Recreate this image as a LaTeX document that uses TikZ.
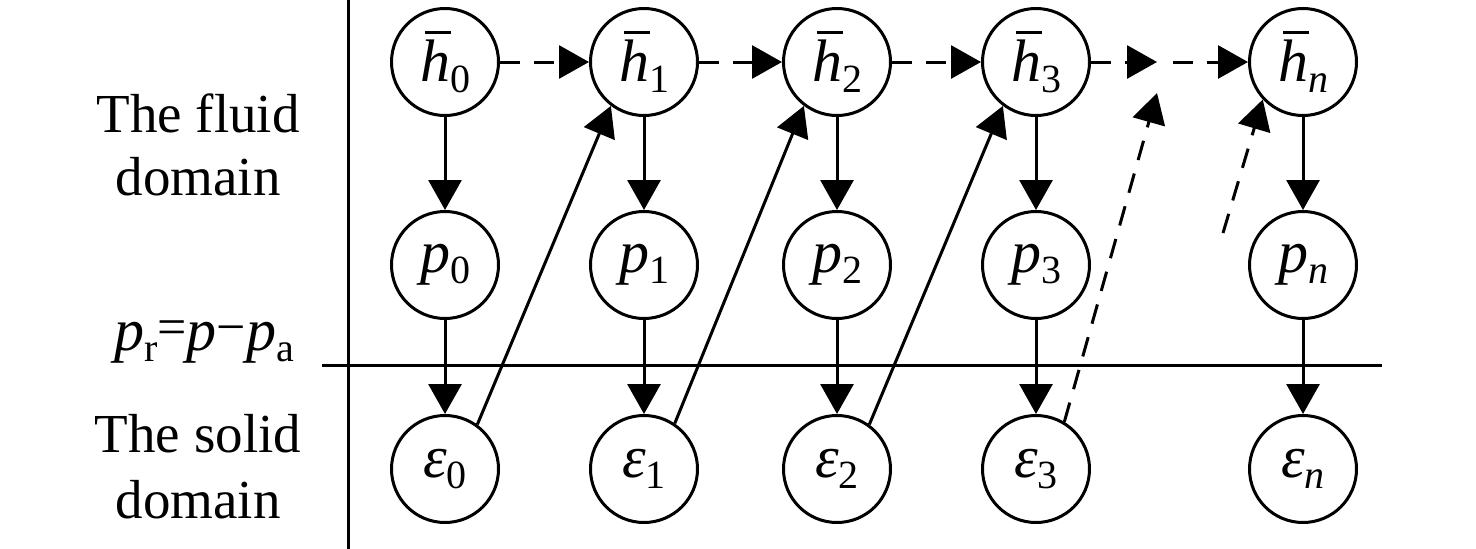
\documentclass[tikz,border=0pt]{standalone}
\usepackage{fontspec}
\setmainfont{Liberation Serif}
\usetikzlibrary{arrows.meta}
\newcommand{\sbx}[1]{\raisebox{-11pt}{\fontsize{40}{40}\selectfont #1}}
\newcommand{\barh}{\rlap{\kern5pt\rule[48pt]{26pt}{2.5pt}}\textit{h}}
\newcommand{\smop}[1]{\raisebox{6pt}{\fontsize{52}{52}\selectfont #1}}
\tikzset{
  st/.style={circle, draw, line width=3pt, minimum size=107pt, inner sep=0pt,
    font=\fontsize{60}{60}\selectfont},
  arr/.style={line width=3pt, -{Triangle[length=30pt,width=33pt]}},
  darr/.style={arr, dash pattern=on 20pt off 14pt},
  lbl/.style={font=\fontsize{55}{63}\selectfont, anchor=base},
  divider/.style={line width=3pt}
}
\begin{document}
\begin{tikzpicture}[x=1pt,y=-1pt]
\useasboundingbox (0,0) rectangle (1476,549);
\foreach \x/\i/\s in {445/0/0, 644/1/1, 837/2/2, 1036/3/3, 1303/n/{\textit{n}}} {
  \node[st] (h\i) at (\x,62) {\barh\sbx{\s}};
  \node[st] (p\i) at (\x,265) {\textit{p}\sbx{\s}};
  \node[st] (e\i) at (\x,469) {\textit{ε}\sbx{\s}};
  \draw[arr] (h\i) -- (p\i);
  \draw[arr] (p\i) -- (e\i);
}
% dividers
\coordinate (vt) at (348,0);
\coordinate (vb) at (348,549);
\coordinate (hl) at (322,365);
\coordinate (hr) at (1382,365);
\draw[divider] (vt) -- (vb);
\draw[divider] (hl) -- (hr);
% horizontal dashed arrows
\draw[darr] (h0) -- (h1);
\draw[darr] (h1) -- (h2);
\draw[darr] (h2) -- (h3);
\coordinate (m1) at (1157,62);
\coordinate (m2) at (1173,62);
\draw[darr] (h3) -- (m1);
\draw[darr] (m2) -- (hn);
% diagonal arrows
\draw[arr] (e0.54) -- (h1.233);
\draw[arr] (e1.56) -- (h2.233);
\draw[arr] (e2.54) -- (h3.233);
\coordinate (m3) at (1157,93);
\draw[darr] (e3.59) -- (m3);
\coordinate (m4) at (1223,233);
\draw[darr] (m4) -- (hn.223);
% labels
\node[lbl] (f1) at (198,132) {The fluid};
\node[lbl] (f2) at (198,195) {domain};
\node[lbl] (s1) at (198,452) {The solid};
\node[lbl] (s2) at (198,518) {domain};
\node[anchor=base west, inner sep=0pt, font=\fontsize{60}{60}\selectfont] (pr) at (114,350)
  {\textit{p}\sbx{r}\smop{=}\textit{p}\smop{−}\textit{p}\sbx{a}};
\end{tikzpicture}
\end{document}
